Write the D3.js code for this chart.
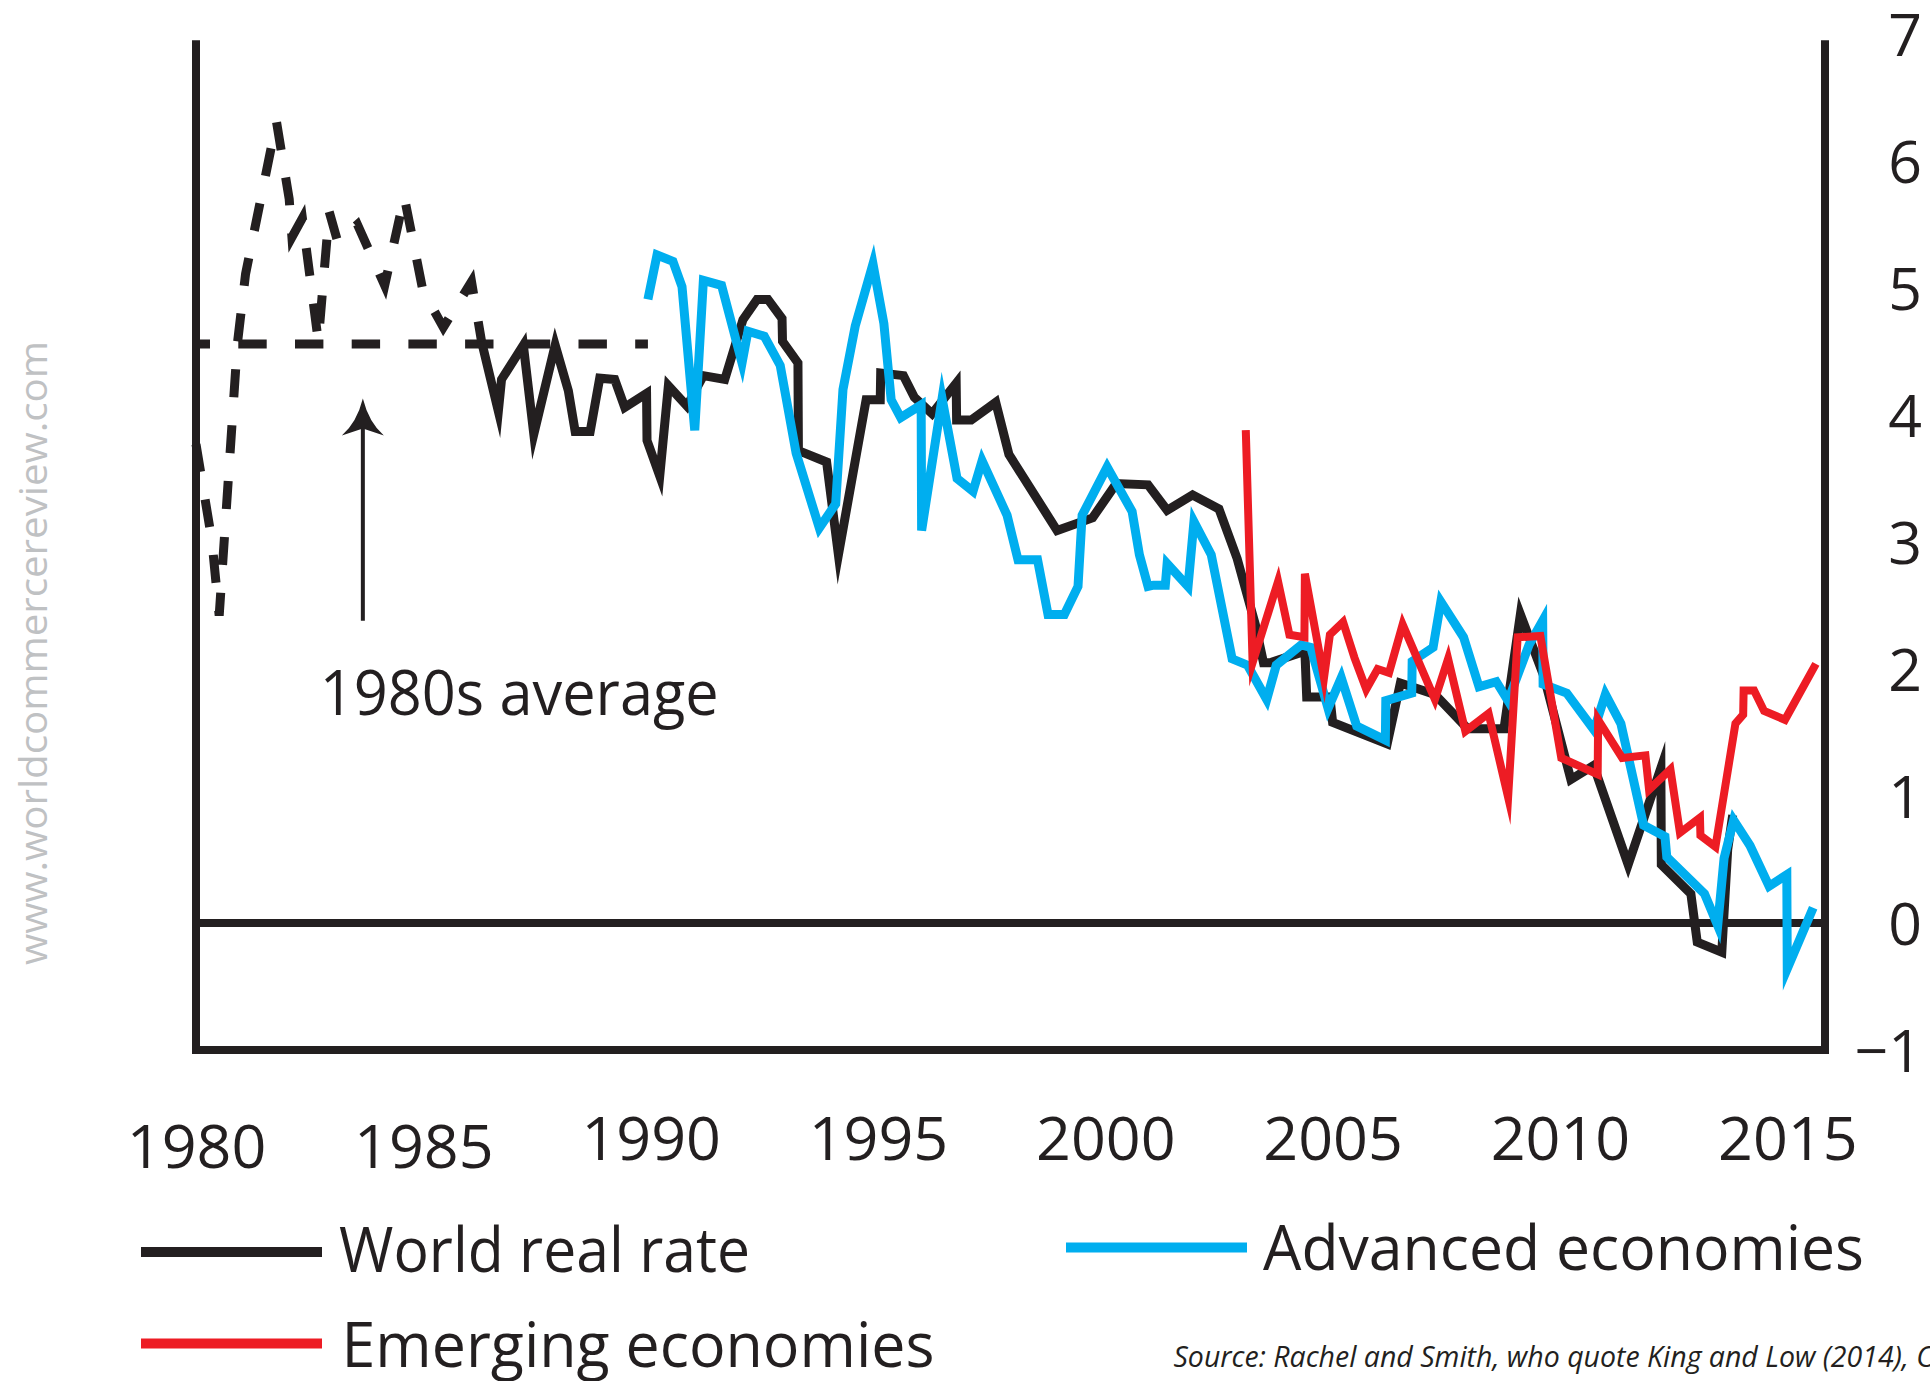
<!DOCTYPE html>
<html><head><meta charset="utf-8">
<script src="https://cdn.jsdelivr.net/npm/d3@7"></script>
<style>
html,body{margin:0;padding:0;background:#fff;overflow:hidden;}
svg{display:block;}
</style></head><body>
<svg id="chart" width="1930" height="1381"></svg>
<script>
// ---------------- data ----------------
const xTicks = [1980, 1985, 1990, 1995, 2000, 2005, 2010, 2015];
const yTicks = [-1, 0, 1, 2, 3, 4, 5, 6, 7];
const average1980s = [[1980, 4.56], [1989.94, 4.56]];
const worldEarly = [
  [1980.0, 3.77], [1980.35, 3.01], [1980.51, 2.42], [1980.91, 4.56], [1981.09, 5.11],
  [1981.77, 6.31], [1982.05, 5.70], [1982.11, 5.40], [1982.34, 5.55], [1982.69, 4.58],
  [1982.93, 5.60], [1983.12, 5.36], [1983.55, 5.50], [1984.15, 5.02], [1984.58, 5.72],
  [1984.99, 4.98], [1985.44, 4.69], [1986.06, 5.05], [1986.28, 4.58]
];
const worldReal = [
  [1986.28, 4.58], [1986.65, 4.03], [1986.72, 4.28], [1987.20, 4.55], [1987.43, 3.85],
  [1987.90, 4.55], [1988.19, 4.19], [1988.34, 3.87], [1988.67, 3.87], [1988.88, 4.29],
  [1989.21, 4.28], [1989.43, 4.06], [1989.91, 4.17], [1989.92, 3.80], [1990.20, 3.52],
  [1990.39, 4.23], [1990.80, 4.07], [1991.16, 4.31], [1991.63, 4.28], [1992.03, 4.75],
  [1992.34, 4.91], [1992.58, 4.91], [1992.89, 4.76], [1992.90, 4.58], [1993.24, 4.41],
  [1993.25, 3.72], [1993.87, 3.63], [1994.13, 2.90], [1994.74, 4.12], [1995.05, 4.12],
  [1995.06, 4.33], [1995.56, 4.31], [1995.80, 4.14], [1996.19, 4.01], [1996.72, 4.25],
  [1996.73, 3.96], [1997.05, 3.96], [1997.59, 4.10], [1997.88, 3.69], [1998.94, 3.09],
  [1999.72, 3.19], [2000.24, 3.46], [2000.94, 3.45], [2001.36, 3.25], [2001.92, 3.37],
  [2002.50, 3.26], [2002.90, 2.87], [2003.30, 2.35], [2003.48, 2.05], [2003.63, 2.05],
  [2004.39, 2.14], [2004.43, 1.78], [2004.94, 1.78], [2005.00, 1.58], [2006.20, 1.41],
  [2006.49, 1.89], [2007.25, 1.80], [2007.97, 1.53], [2008.77, 1.53], [2009.13, 2.43],
  [2009.65, 1.94], [2010.24, 1.13], [2010.74, 1.24], [2011.50, 0.46], [2012.22, 1.22],
  [2012.23, 0.46], [2012.88, 0.23], [2013.02, -0.15], [2013.56, -0.23], [2013.69, 0.58],
  [2013.80, 0.85]
];
const advanced = [
  [1989.94, 4.91], [1990.14, 5.26], [1990.49, 5.21], [1990.69, 5.01], [1990.97, 3.88],
  [1991.16, 5.06], [1991.56, 5.02], [1992.01, 4.41], [1992.14, 4.66], [1992.50, 4.62],
  [1992.85, 4.39], [1993.20, 3.70], [1993.71, 3.11], [1994.07, 3.30], [1994.23, 4.20],
  [1994.50, 4.70], [1994.89, 5.19], [1995.13, 4.72], [1995.29, 4.12], [1995.50, 3.98],
  [1995.95, 4.08], [1995.96, 3.09], [1996.41, 4.13], [1996.74, 3.50], [1997.09, 3.40],
  [1997.29, 3.64], [1997.84, 3.21], [1998.08, 2.86], [1998.51, 2.86], [1998.74, 2.43],
  [1999.10, 2.43], [1999.40, 2.65], [1999.49, 3.21], [2000.04, 3.59], [2000.59, 3.24],
  [2000.75, 2.90], [2000.94, 2.65], [2001.06, 2.66], [2001.32, 2.66], [2001.36, 2.83],
  [2001.82, 2.65], [2001.95, 3.16], [2002.33, 2.90], [2002.79, 2.08], [2003.13, 2.03],
  [2003.55, 1.76], [2003.76, 2.03], [2004.31, 2.19], [2004.52, 2.17], [2004.90, 1.69],
  [2005.19, 1.93], [2005.53, 1.55], [2006.16, 1.44], [2006.17, 1.75], [2006.74, 1.81],
  [2006.75, 2.06], [2007.21, 2.17], [2007.38, 2.53], [2007.88, 2.25], [2008.22, 1.86],
  [2008.60, 1.90], [2008.86, 1.75], [2009.32, 2.19], [2009.62, 2.38], [2009.63, 1.88],
  [2010.15, 1.81], [2010.75, 1.52], [2011.00, 1.80], [2011.34, 1.57], [2011.84, 0.77],
  [2012.31, 0.68], [2012.35, 0.52], [2013.18, 0.23], [2013.47, -0.02], [2013.61, 0.51],
  [2013.82, 0.81], [2014.18, 0.61], [2014.60, 0.29], [2014.99, 0.38], [2015.00, -0.36],
  [2015.57, 0.12]
];
const emerging = [
  [2003.09, 3.88], [2003.24, 2.05], [2003.80, 2.69], [2004.05, 2.27], [2004.38, 2.25],
  [2004.39, 2.75], [2004.81, 1.93], [2004.94, 2.27], [2005.23, 2.37], [2005.48, 2.09],
  [2005.74, 1.84], [2005.99, 2.00], [2006.24, 1.97], [2006.54, 2.35], [2007.25, 1.76],
  [2007.54, 2.08], [2007.92, 1.51], [2008.43, 1.65], [2008.86, 0.99], [2009.07, 2.25],
  [2009.57, 2.26], [2010.03, 1.30], [2010.83, 1.17], [2010.84, 1.60], [2011.37, 1.30],
  [2011.88, 1.32], [2011.96, 1.05], [2012.43, 1.21], [2012.64, 0.71], [2013.08, 0.83],
  [2013.09, 0.69], [2013.42, 0.60], [2013.86, 1.57], [2014.03, 1.64], [2014.04, 1.83],
  [2014.27, 1.83], [2014.49, 1.67], [2014.95, 1.60], [2015.63, 2.04]
];
const seriesNames = ["World real rate", "Advanced economies", "Emerging economies"];
const annotationText = "1980s average";
const sourceText = "Source: Rachel and Smith, who quote King and Low (2014), Consensus Economics and Bank calculations";
const watermarkText = "www.worldcommercereview.com";

// ---------------- drawing ----------------
const INK = "#231f20", BLUE = "#00aeef", RED = "#ed1c24", GREY = "#bfc1c3";
const FONT = '"Open Sans","Noto Sans",sans-serif';
const svg = d3.select("#chart");
svg.append("rect").attr("width", 1930).attr("height", 1381).attr("fill", "#fff");

const xMax = 2015.83;
const x = d3.scaleLinear().domain([1980, xMax]).range([196, 1825]);
const y = d3.scaleLinear().domain([-1, 7]).range([1050, 34]);
const yTop = y(6.95);

// zero line
svg.append("line")
  .attr("x1", x(1980)).attr("x2", x(xMax))
  .attr("y1", y(0)).attr("y2", y(0))
  .attr("stroke", INK).attr("stroke-width", 8);

const lineGen = d3.line().x(d => x(d[0])).y(d => y(d[1]));
function addLine(data, color, width, dash, offset) {
  const p = svg.append("path").datum(data)
    .attr("d", lineGen)
    .attr("fill", "none")
    .attr("stroke", color)
    .attr("stroke-width", width)
    .attr("stroke-linejoin", "miter")
    .attr("stroke-miterlimit", 10)
    .attr("stroke-linecap", "butt");
  if (dash) p.attr("stroke-dasharray", dash);
  if (offset) p.attr("stroke-dashoffset", offset);
  return p;
}

addLine(average1980s, INK, 9, "28.4 28.3", 14.4);
addLine(worldEarly, INK, 9, "28 28", 0);
addLine(worldReal, INK, 9);
addLine(advanced, BLUE, 9);
addLine(emerging, RED, 8);

// frame
svg.append("path")
  .attr("d", `M${x(1980)},${yTop}V${y(-1)}H${x(xMax)}V${yTop}`)
  .attr("fill", "none").attr("stroke", INK).attr("stroke-width", 8)
  .attr("stroke-linejoin", "miter");

// bottom axis labels
const gx = svg.append("g")
  .attr("transform", `translate(0,${y(-1)})`)
  .style("color", INK)
  .call(d3.axisBottom(x).tickValues(xTicks).tickFormat(d3.format("d")).tickSize(0).tickPadding(67));
gx.select(".domain").remove();
gx.attr("font-size", 61).attr("font-family", FONT);
gx.selectAll(".tick text").attr("dy", d => d < 1990 ? "0.84em" : "0.71em");

// right axis labels
const gy = svg.append("g")
  .attr("transform", `translate(${x(xMax)},0)`)
  .style("color", INK)
  .call(d3.axisRight(y).tickValues(yTicks).tickSize(0).tickPadding(97));
gy.select(".domain").remove();
gy.attr("font-size", 59).attr("font-family", FONT);
gy.selectAll(".tick text").attr("text-anchor", "end").attr("dy", "0.36em");

// arrow annotation
const ax = x(1983.67), aTip = y(4.13), aBase = y(2.38);
svg.append("line").attr("x1", ax).attr("x2", ax).attr("y1", aBase).attr("y2", aTip + 28)
  .attr("stroke", INK).attr("stroke-width", 4);
svg.append("path")
  .attr("d", `M${ax},${aTip} Q${ax - 6},${aTip + 24} ${ax - 21},${aTip + 37} L${ax},${aTip + 30} L${ax + 21},${aTip + 37} Q${ax + 6},${aTip + 24} ${ax},${aTip} Z`)
  .attr("fill", INK);

svg.append("text")
  .attr("x", x(1982.72)).attr("y", y(1.64))
  .attr("font-family", FONT).attr("font-size", 63).attr("fill", INK)
  .attr("textLength", 399).attr("lengthAdjust", "spacingAndGlyphs")
  .text(annotationText);

// legend
const legendItems = [
  { name: seriesNames[0], color: INK, lx: 141, ly: 1252, tx: 339, ty: 1272, tl: 411 },
  { name: seriesNames[1], color: BLUE, lx: 1066, ly: 1247.5, tx: 1263, ty: 1269.5, tl: 601 },
  { name: seriesNames[2], color: RED, lx: 141, ly: 1343.5, tx: 341.5, ty: 1367, tl: 593 }
];
const lg = svg.append("g").selectAll("g").data(legendItems).join("g");
lg.append("line")
  .attr("x1", d => d.lx).attr("x2", d => d.lx + 181)
  .attr("y1", d => d.ly).attr("y2", d => d.ly)
  .attr("stroke", d => d.color).attr("stroke-width", 10);
lg.append("text")
  .attr("x", d => d.tx).attr("y", d => d.ty)
  .attr("font-family", FONT).attr("font-size", 63).attr("fill", INK)
  .attr("textLength", d => d.tl).attr("lengthAdjust", "spacingAndGlyphs")
  .text(d => d.name);

// source
svg.append("text")
  .attr("x", 1173.5).attr("y", 1367)
  .attr("font-family", FONT).attr("font-size", 28.5).attr("font-style", "italic").attr("fill", INK)
  .text(sourceText);

// watermark
svg.append("text")
  .attr("transform", "translate(47,965) rotate(-90)")
  .attr("font-family", FONT).attr("font-size", 39).attr("fill", GREY)
  .attr("textLength", 624).attr("lengthAdjust", "spacingAndGlyphs")
  .text(watermarkText);
</script>
</body></html>
